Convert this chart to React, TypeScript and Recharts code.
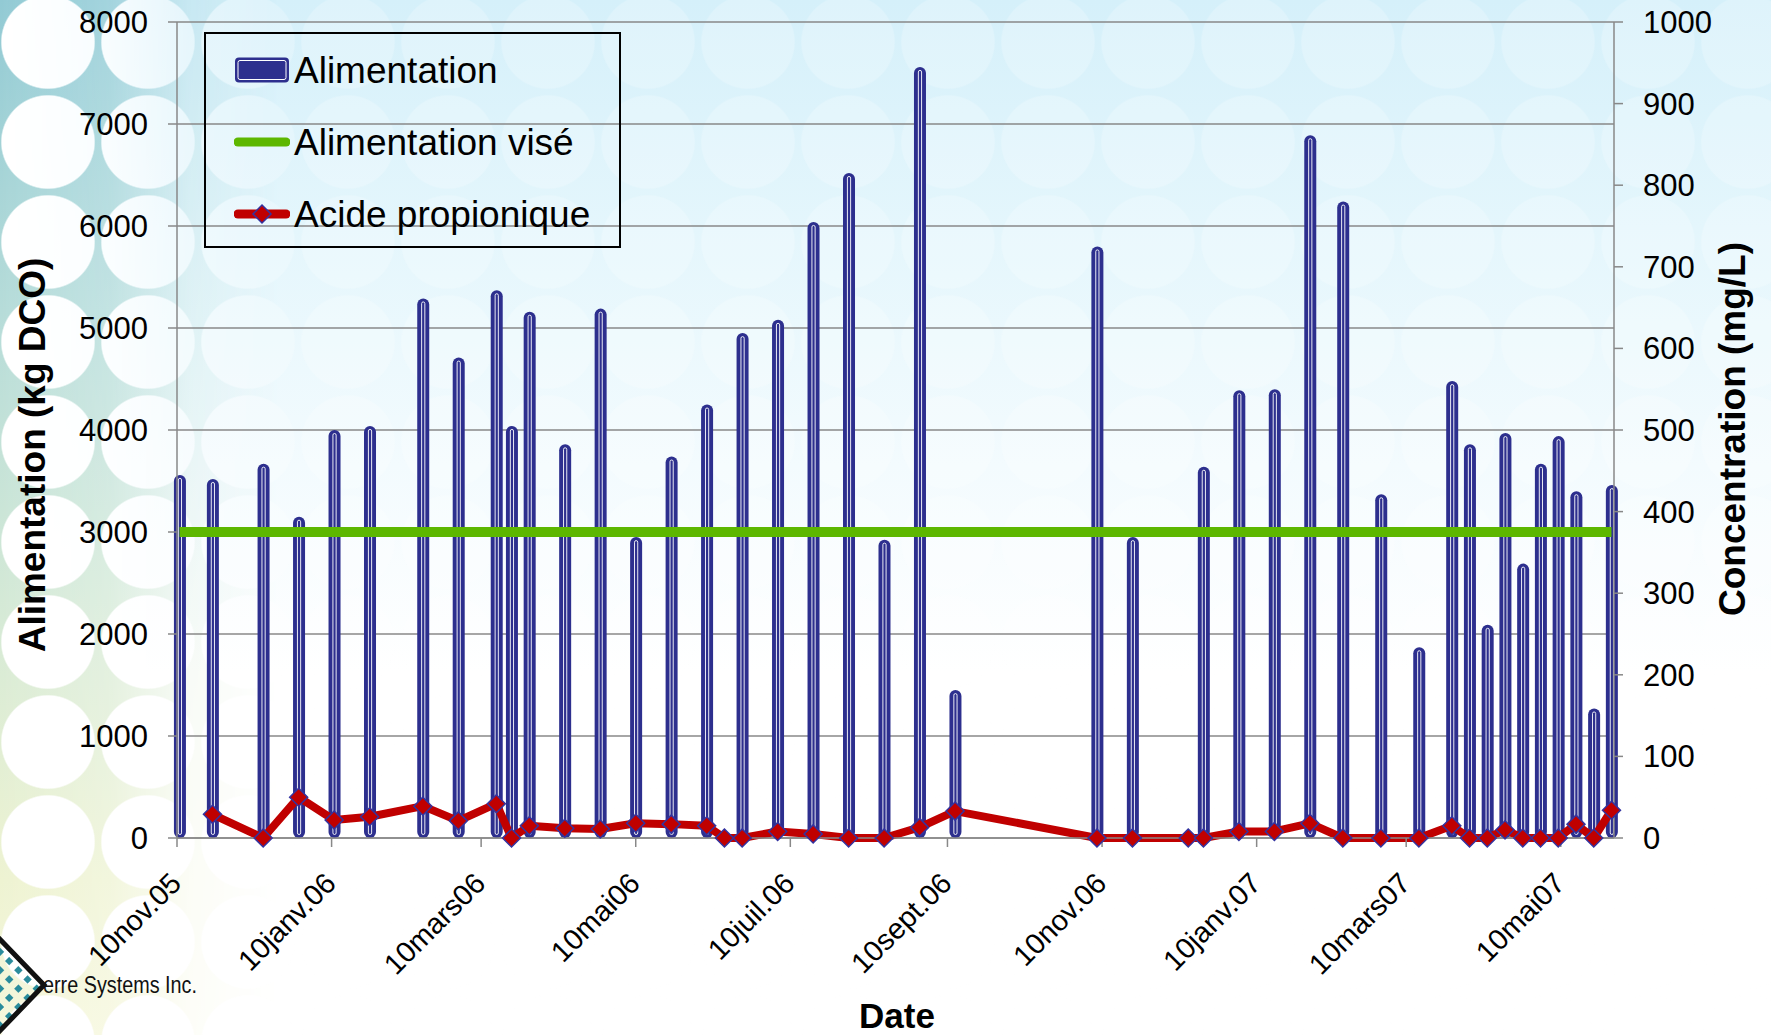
import React from 'react';
import { ComposedChart, Bar, Line, XAxis, YAxis, CartesianGrid, Legend } from 'recharts';

// Alimentation (kg DCO) : dates et quantités
const alimDates = [
  '2005-11-11', '2005-11-24', '2005-12-14', '2005-12-28', '2006-01-11', '2006-01-25', '2006-02-15', '2006-03-01',
  '2006-03-16', '2006-03-22', '2006-03-29', '2006-04-12', '2006-04-26', '2006-05-10', '2006-05-24', '2006-06-07',
  '2006-06-21', '2006-07-05', '2006-07-19', '2006-08-02', '2006-08-16', '2006-08-30', '2006-09-13', '2006-11-08',
  '2006-11-22', '2006-12-20', '2007-01-03', '2007-01-17', '2007-01-31', '2007-02-13', '2007-02-28', '2007-03-15',
  '2007-03-28', '2007-04-04', '2007-04-11', '2007-04-18', '2007-04-25', '2007-05-02', '2007-05-09', '2007-05-16',
  '2007-05-23', '2007-05-30',
];
const alimValues = [
  3560, 3520, 3670, 3150, 4000, 4040, 5290, 4710,
  5370, 4040, 5160, 3860, 5190, 2950, 3740, 4250,
  4950, 5080, 6040, 6520, 2925, 7560, 1450, 5800,
  2950, 3640, 4390, 4400, 6890, 6240, 3370, 1870,
  4480, 3860, 2090, 3970, 2690, 3670, 3940, 3400,
  1270, 3460,
];

// Acide propionique (mg/L)
const acideDates = [
  '2005-11-24', '2005-12-14', '2005-12-28', '2006-01-11', '2006-01-25', '2006-02-15', '2006-03-01', '2006-03-16',
  '2006-03-22', '2006-03-29', '2006-04-12', '2006-04-26', '2006-05-10', '2006-05-24', '2006-06-07', '2006-06-14',
  '2006-06-21', '2006-07-05', '2006-07-19', '2006-08-02', '2006-08-16', '2006-08-30', '2006-09-13', '2006-11-08',
  '2006-11-22', '2006-12-14', '2006-12-20', '2007-01-03', '2007-01-17', '2007-01-31', '2007-02-13', '2007-02-28',
  '2007-03-15', '2007-03-28', '2007-04-04', '2007-04-11', '2007-04-18', '2007-04-25', '2007-05-02', '2007-05-09',
  '2007-05-16', '2007-05-23', '2007-05-30',
];
const acideValues = [
  29, 0, 50, 22, 26, 39, 21, 42,
  0, 15, 12, 11, 18, 17, 15, 0,
  0, 8, 5, 0, 0, 13, 33, 0,
  0, 0, 0, 8, 8, 18, 0, 0,
  0, 15, 0, 0, 10, 0, 0, 0,
  17, 0, 34,
];

// Alimentation visée (kg DCO)
const alimVise = 3000;

const dateStart = '2005-11-10';
const dateEnd = '2007-05-31';
const tickDates = [
  '2005-11-10', '2006-01-10', '2006-03-10', '2006-05-10', '2006-07-10',
  '2006-09-10', '2006-11-10', '2007-01-10', '2007-03-10', '2007-05-10',
];
const tickLabels = [
  '10nov.05', '10janv.06', '10mars06', '10mai06', '10juil.06',
  '10sept.06', '10nov.06', '10janv.07', '10mars07', '10mai07',
];
const leftTicks = [0, 1000, 2000, 3000, 4000, 5000, 6000, 7000, 8000];
const rightTicks = [0, 100, 200, 300, 400, 500, 600, 700, 800, 900, 1000];

const NAVY = '#2D2F8E';
const RED = '#C00000';
const GREEN = '#5DB700';
const GRID = '#888888';
const FONT = '"Liberation Sans", Arial, sans-serif';

const toTime = (d: string) => Date.parse(d + 'T00:00:00Z');

// one row per date, merging both series
const rows = (() => {
  const byTime = new Map<number, any>();
  const row = (d: string) => {
    const t = toTime(d);
    if (!byTime.has(t)) byTime.set(t, { t, vise: alimVise });
    return byTime.get(t);
  };
  alimDates.forEach((d, i) => { row(d).alim = alimValues[i]; });
  acideDates.forEach((d, i) => { row(d).acide = acideValues[i]; });
  return [...byTime.values()].sort((a, b) => a.t - b.t);
})();

const tickTimes = tickDates.map(toTime);

// thin column with a double outline (navy / white / navy)
const TubeBar = (props: any) => {
  const { x, y, width, height } = props;
  if (!height || height <= 0 || x == null) return <g />;
  const cx = x + width / 2;
  return (
    <g>
      <rect x={x} y={y} width={width} height={height} rx={width / 2} fill={NAVY} />
      <rect x={cx - 1.6} y={y + 3.5} width={3.2} height={Math.max(height - 7, 0)} rx={1.6}
        fill="none" stroke="#ffffff" strokeWidth={0.9} />
    </g>
  );
};

const Diamond = (props: any) => {
  const { cx, cy } = props;
  if (cx == null || cy == null) return <g />;
  const r = 9;
  return (
    <path d={`M${cx},${cy - r} L${cx + r},${cy} L${cx},${cy + r} L${cx - r},${cy} Z`}
      fill={RED} stroke="#3333A0" strokeWidth={1.5} />
  );
};

const DateTick = (props: any) => {
  const { x, y, payload } = props;
  const i = tickTimes.indexOf(payload.value);
  const ax = x + 6;
  const ay = y + 38;
  return (
    <text x={ax} y={ay} transform={`rotate(-45 ${ax} ${ay})`} textAnchor="end"
      fontSize={29} fill="#000" fontFamily={FONT}>
      {tickLabels[i]}
    </text>
  );
};

const legendItems = [
  { name: 'Alimentation', kind: 'bar' },
  { name: 'Alimentation visé', kind: 'line' },
  { name: 'Acide propionique', kind: 'marker' },
];

const LegendIcon = ({ kind }: { kind: string }) => (
  <svg width={56} height={30} style={{ display: 'block' }}>
    {kind === 'bar' && (
      <g>
        <rect x={1} y={2.5} width={54} height={25} rx={4} fill={NAVY} />
        <rect x={4} y={5.5} width={48} height={19} rx={2} fill="none" stroke="#ffffff" strokeWidth={1} />
      </g>
    )}
    {kind === 'line' && <line x1={4} y1={15} x2={52} y2={15} stroke={GREEN} strokeWidth={9} strokeLinecap="round" />}
    {kind === 'marker' && (
      <g>
        <line x1={4} y1={15} x2={52} y2={15} stroke={RED} strokeWidth={9} strokeLinecap="round" />
        <path d="M28,6 L37,15 L28,24 L19,15 Z" fill={RED} stroke="#3333A0" strokeWidth={1.5} />
      </g>
    )}
  </svg>
);

const renderLegend = () => (
  <div style={{
    width: 417, height: 216, boxSizing: 'border-box', border: '2px solid #000', fontFamily: FONT,
  }}>
    {legendItems.map((it) => (
      <div key={it.name} style={{ height: 72, display: 'flex', alignItems: 'center' }}>
        <div style={{ marginLeft: 28, width: 56 }}><LegendIcon kind={it.kind} /></div>
        <span style={{ marginLeft: 4, fontSize: 37, color: '#000', lineHeight: 1 }}>{it.name}</span>
      </div>
    ))}
  </div>
);

const leftTitle = () => (
  <text x={45} y={455} transform="rotate(-90 45 455)" textAnchor="middle"
    fontSize={37} fontWeight="bold" fill="#000" fontFamily={FONT}>
    Alimentation (kg DCO)
  </text>
);

const rightTitle = () => (
  <text x={1745} y={429} transform="rotate(-90 1745 429)" textAnchor="middle"
    fontSize={37} fontWeight="bold" fill="#000" fontFamily={FONT}>
    Concentration (mg/L)
  </text>
);

const bottomTitle = () => (
  <text x={897} y={1028} textAnchor="middle" fontSize={35} fontWeight="bold" fill="#000" fontFamily={FONT}>
    Date
  </text>
);

const Logo = () => (
  <svg width={220} height={110} style={{ position: 'absolute', left: 0, top: 925 }}>
    <defs>
      <pattern id="dots" width={13} height={13} patternUnits="userSpaceOnUse" patternTransform="rotate(45)">
        <rect x={3} y={3} width={6} height={6} fill="#2A8C9C" />
      </pattern>
    </defs>
    <path d="M-60,60 L-8,6 L44,60 L-8,114 Z" fill="url(#dots)" stroke="#111" strokeWidth={5} />
    <text x={43} y={68} fontSize={23} fill="#111" fontFamily={FONT} textLength={154}
      lengthAdjust="spacingAndGlyphs">erre Systems Inc.</text>
  </svg>
);

const circles = (alpha: number) =>
  `radial-gradient(circle, rgba(255,255,255,${alpha}) 0, rgba(255,255,255,${alpha}) 46px, rgba(255,255,255,0) 47.5px)`;

const App: React.FC = () => {
  return (
    <div style={{
      position: 'absolute', left: 0, top: 0, width: 1771, height: 1035, overflow: 'hidden',
      background: 'linear-gradient(180deg, #d5f0fa 0%, #e4f6fc 22%, #f3fbfe 45%, #ffffff 65%)',
    }}>
      {/* faint circle pattern over the sheet */}
      <div style={{
        position: 'absolute', inset: 0,
        backgroundImage: circles(0.22),
        backgroundSize: '100px 100px',
        backgroundPosition: '-2px -8px',
      }} />
      {/* stronger teal circles on the left edge */}
      <div style={{
        position: 'absolute', left: 0, top: 0, width: 300, height: 1035,
        backgroundImage: circles(1) + ', linear-gradient(180deg, #92cad4 0%, #b6dcd9 30%, #d6ead6 60%, #eef3d2 85%, #f6f7dc 100%)',
        backgroundSize: '100px 100px, 100% 100%',
        backgroundPosition: '-2px -8px, 0 0',
        WebkitMaskImage: 'linear-gradient(90deg, #000 0px, rgba(0,0,0,0.75) 110px, rgba(0,0,0,0.2) 190px, rgba(0,0,0,0) 280px)',
        maskImage: 'linear-gradient(90deg, #000 0px, rgba(0,0,0,0.75) 110px, rgba(0,0,0,0.2) 190px, rgba(0,0,0,0) 280px)',
      }} />
      <Logo />
      <div style={{ position: 'absolute', left: 0, top: 0 }}>
        <ComposedChart width={1771} height={1035} data={rows}
          margin={{ top: 22, right: 0, bottom: 0, left: 0 }}
          style={{ fontFamily: FONT }}>
          <CartesianGrid yAxisId="left" vertical={false} stroke={GRID} strokeWidth={1.5} />
          <XAxis dataKey="t" type="number" scale="linear"
            domain={[toTime(dateStart), toTime(dateEnd)]} ticks={tickTimes} interval={0}
            height={197} tickSize={9} tickMargin={0} tick={<DateTick />}
            axisLine={{ stroke: GRID, strokeWidth: 1.5 }} tickLine={{ stroke: GRID, strokeWidth: 1.5 }}
            label={{ content: bottomTitle }} />
          <YAxis yAxisId="left" orientation="left" width={177} domain={[0, 8000]} ticks={leftTicks}
            interval={0} tickSize={9} tickMargin={20} tick={{ fontSize: 31, fill: '#000' }}
            axisLine={{ stroke: GRID, strokeWidth: 1.5 }} tickLine={{ stroke: GRID, strokeWidth: 1.5 }}
            label={{ content: leftTitle }} />
          <YAxis yAxisId="right" orientation="right" width={157} domain={[0, 1000]} ticks={rightTicks}
            interval={0} tickSize={9} tickMargin={20} tick={{ fontSize: 31, fill: '#000' }}
            axisLine={{ stroke: GRID, strokeWidth: 1.5 }} tickLine={{ stroke: GRID, strokeWidth: 1.5 }}
            label={{ content: rightTitle }} />
          <Legend layout="vertical" align="center" verticalAlign="middle" content={renderLegend}
            wrapperStyle={{ left: 204, top: 32, width: 417, height: 216 }} />
          <Bar yAxisId="left" dataKey="alim" name="Alimentation" barSize={12}
            shape={<TubeBar />} isAnimationActive={false} />
          <Line yAxisId="left" dataKey="vise" name="Alimentation visé" stroke={GREEN} strokeWidth={10}
            dot={false} activeDot={false} isAnimationActive={false} />
          <Line yAxisId="right" dataKey="acide" name="Acide propionique" stroke={RED} strokeWidth={8}
            connectNulls dot={<Diamond />} activeDot={false} strokeLinejoin="round"
            isAnimationActive={false} />
        </ComposedChart>
      </div>
    </div>
  );
};

export default App;
